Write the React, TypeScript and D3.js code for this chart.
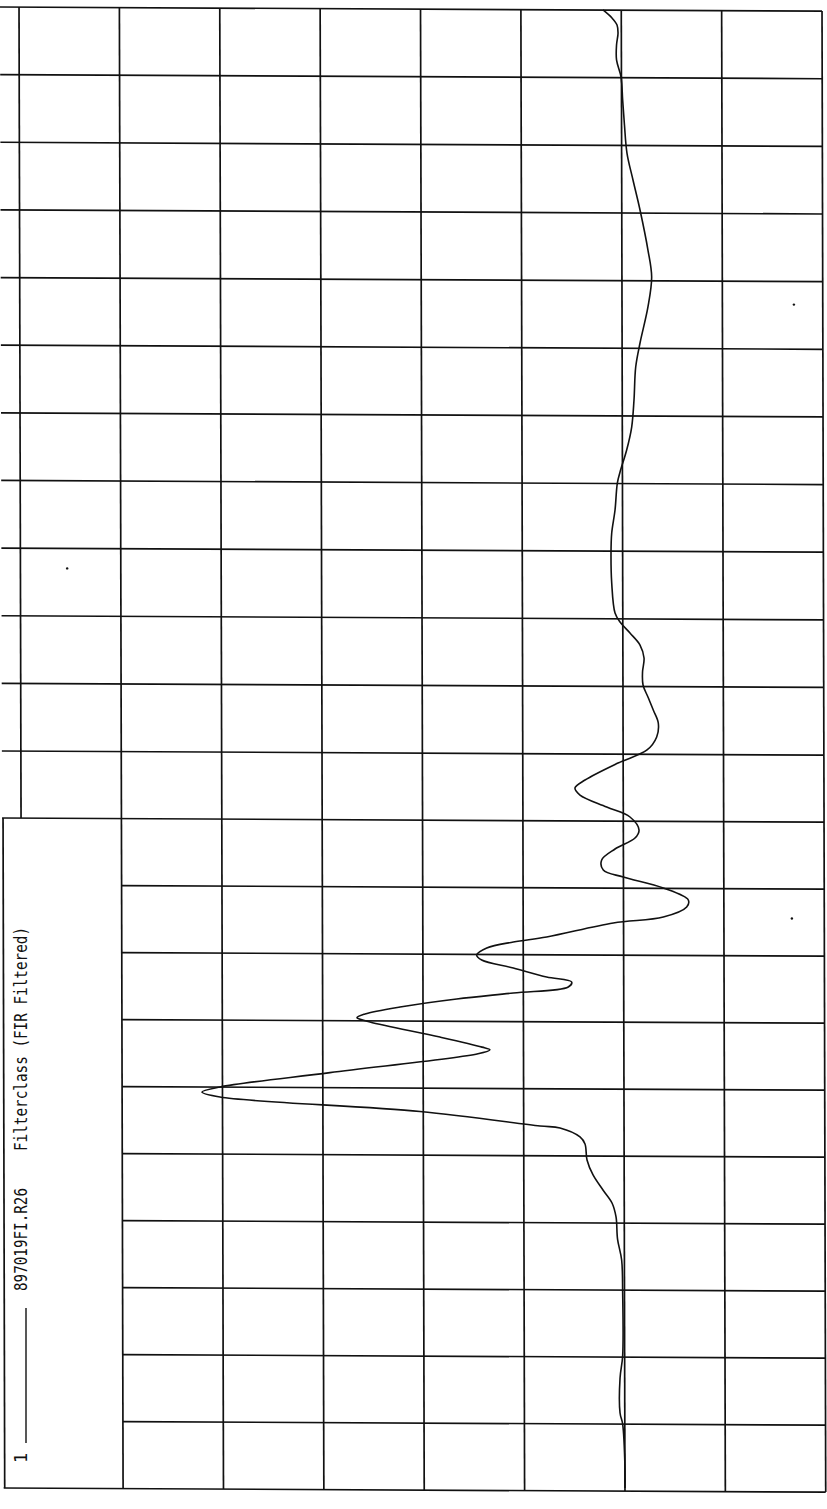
import React from "react";
import * as d3 from "d3";

const W = 827;
const H = 1509;

// value axis (drawn horizontally, rotated plot), in grid divisions
const valueTicks = [-2, -1, 0, 1, 2, 3, 4, 5, 6];
// time axis (drawn vertically, bottom -> top), in grid divisions
const timeTicks = d3.range(0, 23);

// trace samples: time (divisions) and value (divisions)
const times = [
  21.956, 21.837, 21.734, 21.616, 21.438, 21.217, 20.965, 20.625, 20.255, 19.841,
  19.442, 18.999, 18.407, 18.008, 17.565, 17.032, 16.677, 16.19, 15.79, 15.45,
  15.125, 14.962, 14.563, 14.223, 13.927, 13.484, 13.04, 12.907, 12.745, 12.567,
  12.375, 12.168, 11.976, 11.798, 11.606, 11.414, 11.207, 11.015, 10.821, 10.567,
  10.448, 10.343, 10.164, 10.015, 9.821, 9.701, 9.537, 9.373, 9.224, 9.119,
  8.955, 8.776, 8.672, 8.522, 8.433, 8.224, 8.149, 8.06, 7.955, 7.881,
  7.761, 7.627, 7.552, 7.478, 7.388, 7.299, 7.18, 7.075, 7.02, 6.955,
  6.73, 6.58, 6.54, 6.48, 6.2, 5.985, 5.91, 5.835, 5.62, 5.403,
  5.373, 5.239, 5.134, 4.896, 4.672, 4.448, 4.254, 4.045, 3.716, 3.403,
  2.925, 1.97, 1.642, 1.119, 0.955, 0.313, 0.0,
];
const values = [
  0.182, 0.092, 0.042, 0.032, 0.047, 0.047, 0.002, -0.014, -0.032, -0.057,
  -0.117, -0.187, -0.266, -0.303, -0.266, -0.187, -0.144, -0.127, -0.104, -0.054,
  0.012, 0.039, 0.062, 0.095, 0.102, 0.095, 0.062, 0.012, -0.087, -0.187,
  -0.227, -0.212, -0.217, -0.266, -0.319, -0.369, -0.353, -0.257, 0.032, 0.361,
  0.461, 0.411, 0.145, -0.087, -0.177, -0.137, 0.062, 0.195, 0.179, -0.02,
  -0.419, -0.668, -0.652, -0.419, 0.079, 0.743, 1.075, 1.34, 1.44, 1.39,
  1.075, 0.743, 0.494, 0.528, 1.075, 1.639, 2.204, 2.553, 2.633, 2.503,
  1.806, 1.387, 1.308, 1.427, 2.902, 3.998, 4.177, 3.998, 2.005, 0.809,
  0.61, 0.411, 0.361, 0.341, 0.281, 0.182, 0.092, 0.052, 0.037, -0.004,
  -0.014, -0.014, 0.012, 0.012, -0.014, -0.037, -0.037,
];

// stray plotter specks on the sheet (value, time)
const speckValues = [5.52, -1.72, -1.7];
const speckTimes = [13.7, 17.6, 8.5];

const legendIndex = "1";
const legendFile = "897019FI.R26";
const legendTitle = "Filterclass (FIR Filtered)";

export default function App() {
  const x = d3.scaleLinear().domain([-2, 6]).range([822, 19]);
  const y = d3.scaleLinear().domain([0, 11, 22]).range([1488, 751, 7]);

  const pts: [number, number][] = times.map((t, i) => [values[i], t]);
  const line = d3
    .line<[number, number]>()
    .x((d) => x(d[0]))
    .y((d) => y(d[1]))
    .curve(d3.curveCatmullRom.alpha(0.5));

  const boxTop = y(10);
  const xLeft = 0;
  const xRight = x(-2);
  const xBoxRight = x(5);

  const font = "'DejaVu Sans Mono', 'Liberation Mono', monospace";
  const stroke = "#111";

  return (
    <svg
      width={W}
      height={H}
      viewBox={`0 0 ${W} ${H}`}
      style={{ position: "absolute", left: 0, top: 0, background: "#fff" }}
    >
      <rect x={0} y={0} width={W} height={H} fill="#fff" />
      <g transform="matrix(1,0.005,0.0025,1,0,0)" stroke={stroke} strokeWidth={1.7} fill="none">
        {timeTicks.map((t) => {
          const yy = y(t);
          const x0 = t >= 10 || t === 0 ? xLeft : xBoxRight;
          return <line key={"h" + t} x1={x0} x2={xRight} y1={yy} y2={yy} />;
        })}
        {valueTicks.map((v) => {
          const xx = x(v);
          const yBottom = v === 6 ? boxTop : y(0);
          return <line key={"v" + v} x1={xx} x2={xx} y1={y(22)} y2={yBottom} />;
        })}
        <line x1={1} x2={1} y1={boxTop} y2={y(0)} />
      </g>
      <path d={line(pts) || ""} fill="none" stroke={stroke} strokeWidth={1.6} />
      {speckValues.map((v, i) => (
        <circle key={"s" + i} cx={x(v)} cy={y(speckTimes[i])} r={1.2} fill={stroke} />
      ))}
      <g fill={stroke} fontFamily={font} fontSize={17}>
        <text transform="translate(27,1463) rotate(-90)">{legendIndex}</text>
        <line x1={26} x2={26} y1={1443} y2={1308} stroke={stroke} strokeWidth={1.4} />
        <text
          transform="translate(27,1291) rotate(-90)"
          textLength={103}
          lengthAdjust="spacingAndGlyphs"
        >
          {legendFile}
        </text>
        <text
          transform="translate(27,1151) rotate(-90)"
          textLength={224}
          lengthAdjust="spacingAndGlyphs"
        >
          {legendTitle}
        </text>
      </g>
    </svg>
  );
}
